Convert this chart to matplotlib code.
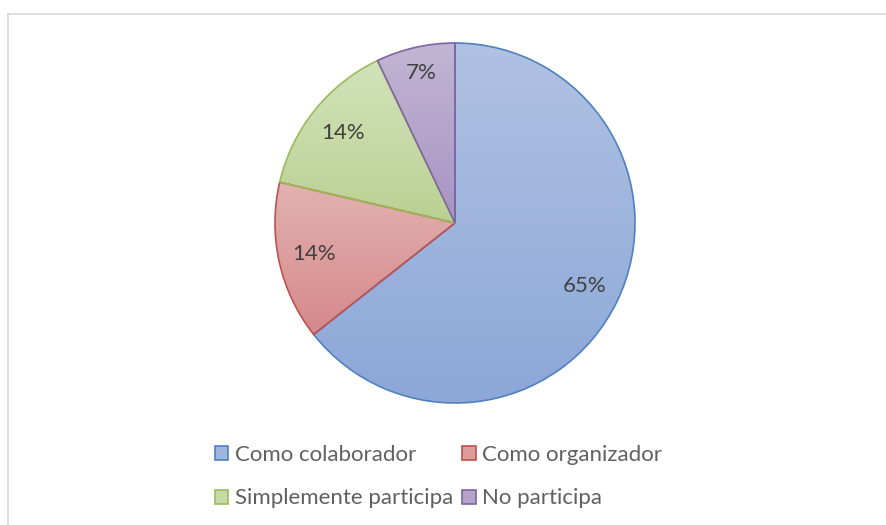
import numpy as np
import matplotlib.pyplot as plt
from matplotlib.colors import LinearSegmentedColormap
from matplotlib.patches import Patch
from matplotlib.lines import Line2D

# ---- data ----
labels = ["Como colaborador", "Como organizador", "Simplemente participa", "No participa"]
values = [64.5, 14.3, 14.3, 7.1]
pct_labels = ["65%", "14%", "14%", "7%"]

# ---- style ----
edge_colors = ["#4F81BD", "#C0504D", "#9BBB59", "#8064A2"]
top_colors = ["#B0C2E3", "#E3B2B1", "#D3E2BB", "#C1B5D4"]
bot_colors = ["#8CA7D8", "#D5898A", "#BAD192", "#A893C2"]
mid_colors = ["#9EB5DE", "#DC9E9D", "#C6DAA6", "#B4A4CB"]

plt.rcParams['font.family'] = ['Lato', 'DejaVu Sans']

W, H = 886, 525
fig = plt.figure(figsize=(W / 100, H / 100), dpi=100)

# chart frame (only top/left edges visible)
fig.add_artist(Line2D([8 / W, 8 / W], [0, 1 - 14 / H], transform=fig.transFigure,
                      color="#D9D9D9", lw=1.2))
fig.add_artist(Line2D([8 / W, 1], [1 - 14 / H, 1 - 14 / H], transform=fig.transFigure,
                      color="#D9D9D9", lw=1.2))

cx, cy, r = 455, 223, 180
ax = fig.add_axes([(cx - r) / W, (H - cy - r) / H, 2 * r / W, 2 * r / H])

lab_iter = iter(pct_labels)
wedges, texts, autotexts = ax.pie(
    values, startangle=90, counterclock=False, colors=mid_colors,
    autopct=lambda p: next(lab_iter), pctdistance=0.8,
    wedgeprops=dict(edgecolor="none", linewidth=0),
    textprops=dict(color="#404040", fontsize=16))

# gradient fill per slice, light at top -> darker at bottom
grad = np.linspace(0, 1, 256).reshape(-1, 1)
for w, tc, bc, ec in zip(wedges, top_colors, bot_colors, edge_colors):
    bb = w.get_path().get_extents(w.get_patch_transform())
    cmap = LinearSegmentedColormap.from_list("g", [tc, bc])
    im = ax.imshow(grad, cmap=cmap, aspect='auto',
                   extent=[bb.x0, bb.x1, bb.y0, bb.y1], origin='upper', zorder=0.5)
    im.set_clip_path(w)
    w.set_facecolor("none")
    w.set_edgecolor(ec)
    w.set_linewidth(1.2)
    w.set_zorder(1)

for t in autotexts:
    t.set_zorder(3)
# small slice label sits a bit further out
x, y = autotexts[3].get_position()
autotexts[3].set_position((x * 1.07, y * 1.07))

ax.set_xlim(-1, 1)
ax.set_ylim(-1, 1)
ax.set_aspect('equal')
ax.axis('off')

handles = [Patch(facecolor=c, edgecolor=e, linewidth=1.2) for c, e in zip(mid_colors, edge_colors)]
order = [0, 2, 1, 3]  # fill legend row by row
fig.legend([handles[i] for i in order], [labels[i] for i in order], ncol=2, loc='upper left',
           bbox_to_anchor=(204 / W, 1 - 434 / H), frameon=False,
           fontsize=16, labelcolor="#606060",
           handlelength=0.6, handleheight=0.6, handletextpad=0.3,
           columnspacing=0.4, labelspacing=1.05, borderpad=0)

fig.savefig("out.png", dpi=100, facecolor="white")
